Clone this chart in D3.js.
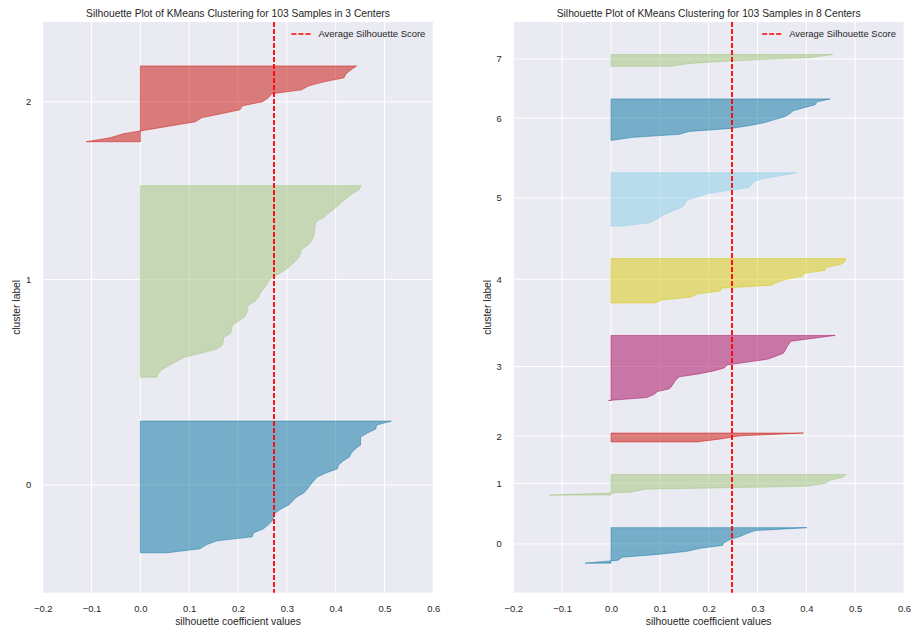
<!DOCTYPE html>
<html>
<head>
<meta charset="utf-8">
<script src="https://cdn.jsdelivr.net/npm/d3@7"></script>
<style>
body{margin:0;background:#fff;}
text{font-family:"Liberation Sans",Arial,sans-serif;fill:#262626;}
</style>
</head>
<body>
<div class="canva"></div>
<script>
// silhouette values of each cluster, sorted low -> high
const left0 = [0.055,0.122,0.135,0.157,0.229,0.232,0.252,0.262,0.270,0.273,0.276,0.288,0.304,0.312,0.320,0.335,0.342,
  0.348,0.355,0.362,0.380,0.403,0.406,0.415,0.428,0.432,0.440,0.451,0.451,0.451,0.465,0.482,0.484,0.514];
const left1 = [0.034,0.037,0.045,0.060,0.075,0.090,0.124,0.155,0.168,0.170,0.171,0.185,0.187,0.188,0.200,0.213,0.218,
  0.219,0.221,0.235,0.242,0.245,0.251,0.258,0.262,0.270,0.285,0.298,0.308,0.317,0.324,0.328,0.330,0.342,0.350,0.354,
  0.356,0.357,0.358,0.360,0.376,0.384,0.395,0.405,0.414,0.424,0.435,0.448,0.452];
const left2 = [-0.111,-0.062,-0.035,0.015,0.064,0.113,0.125,0.165,0.204,0.209,0.250,0.262,0.269,0.330,0.345,0.376,
  0.417,0.421,0.431,0.443];

const right0 = [-0.053,0.015,0.023,0.100,0.156,0.182,0.228,0.232,0.244,0.264,0.278,0.295,0.401];
const right1 = [-0.126,0.040,0.070,0.401,0.440,0.448,0.473,0.482];
const right2 = [0.176,0.225,0.262,0.394];
const right3 = [-0.005,0.073,0.088,0.095,0.120,0.125,0.129,0.133,0.140,0.180,0.210,0.232,0.238,0.280,0.322,0.338,
  0.353,0.357,0.360,0.364,0.368,0.412,0.459];
const right4 = [0.090,0.105,0.165,0.176,0.224,0.227,0.329,0.340,0.360,0.392,0.396,0.438,0.440,0.470,0.479,0.481];
const right5 = [0.022,0.077,0.090,0.100,0.110,0.125,0.140,0.150,0.152,0.158,0.180,0.199,0.240,0.283,0.288,0.292,
  0.310,0.345,0.380];
const right6 = [0.003,0.045,0.140,0.160,0.245,0.285,0.315,0.335,0.357,0.366,0.373,0.395,0.418,0.422,0.449];
const right7 = [0.121,0.162,0.260,0.410,0.454];

const leftAvg = 0.273;
const rightAvg = 0.247;
const xTicks = [-0.2,-0.1,0.0,0.1,0.2,0.3,0.4,0.5,0.6];
const clusterColors = ["#0272a2","#9fc377","#ca0b03","#a50258","#d7c703","#88cee6"];
const gap = 10;

const svg = d3.select(".canva").append("svg")
  .attr("width", 914)
  .attr("height", 630);

function drawPanel(clusters, avg, title, box) {
  const total = d3.sum(clusters, c => c.length) + gap * (clusters.length + 1);
  const x = d3.scaleLinear().domain([-0.2, 0.6]).range([box.x0, box.x1]);
  const y = d3.scaleLinear().domain([0, total]).range([box.y1, box.y0]);

  // where each cluster sits on the y axis
  let yLower = gap;
  const spans = clusters.map((vals, i) => {
    const s = {i: i, vals: vals, lower: yLower, mid: yLower + vals.length / 2};
    yLower += vals.length + gap;
    return s;
  });

  const g = svg.append("g");
  g.append("rect")
    .attr("x", box.x0).attr("y", box.y0)
    .attr("width", box.x1 - box.x0).attr("height", box.y1 - box.y0)
    .attr("fill", "#eaeaf2");

  g.selectAll(".vgrid").data(xTicks).enter().append("line")
    .attr("x1", d => x(d)).attr("x2", d => x(d))
    .attr("y1", box.y0).attr("y2", box.y1)
    .attr("stroke", "#fff").attr("stroke-width", 1);
  g.selectAll(".hgrid").data(spans).enter().append("line")
    .attr("x1", box.x0).attr("x2", box.x1)
    .attr("y1", d => y(d.mid)).attr("y2", d => y(d.mid))
    .attr("stroke", "#fff").attr("stroke-width", 1);

  spans.forEach(s => {
    const area = d3.area()
      .x0(x(0))
      .x1(d => x(d))
      .y((d, j) => y(s.lower + j));
    const c = clusterColors[s.i % clusterColors.length];
    g.append("path")
      .attr("d", area(s.vals))
      .attr("fill", c).attr("fill-opacity", 0.5)
      .attr("stroke", c).attr("stroke-opacity", 0.5).attr("stroke-width", 0.9);
  });

  // snap the dashed line to the pixel grid so it stays bright red
  const ax = Math.round(x(avg));
  g.append("line")
    .attr("x1", ax).attr("x2", ax)
    .attr("y1", box.y0).attr("y2", box.y1)
    .attr("stroke", "#ff0000").attr("stroke-width", 1.8)
    .attr("stroke-dasharray", "5,2");

  // axes
  const xAxis = g.append("g")
    .attr("transform", `translate(0,${box.y1})`)
    .call(d3.axisBottom(x).tickValues(xTicks).tickSize(0).tickPadding(12.3).tickFormat(d3.format(".1f")));
  const yAxis = g.append("g")
    .attr("transform", `translate(${box.x0},0)`)
    .call(d3.axisLeft(y).tickValues(spans.map(s => s.mid)).tickSize(0).tickPadding(11.5)
      .tickFormat((d, i) => String(i)));
  [xAxis, yAxis].forEach(a => {
    a.select(".domain").remove();
    a.selectAll("text").attr("font-size", 9.45).attr("fill", "#262626")
      .attr("font-family", '"Liberation Sans",Arial,sans-serif');
  });

  g.append("text")
    .attr("x", (box.x0 + box.x1) / 2).attr("y", 624.8)
    .attr("text-anchor", "middle").attr("font-size", 10.3)
    .text("silhouette coefficient values");
  g.append("text")
    .attr("transform", `translate(${box.x0 - 26},${(box.y0 + box.y1) / 2}) rotate(-90)`)
    .attr("text-anchor", "middle").attr("dy", "0.35em").attr("font-size", 10.3)
    .text("cluster label");
  g.append("text")
    .attr("x", (box.x0 + box.x1) / 2).attr("y", 17.3)
    .attr("text-anchor", "middle").attr("font-size", 10.3)
    .text(title);

  // legend
  const lt = g.append("text")
    .attr("x", box.x1 - 8).attr("y", 37.4)
    .attr("text-anchor", "end").attr("font-size", 9.45)
    .text("Average Silhouette Score");
  const tStart = box.x1 - 8 - lt.node().getComputedTextLength();
  g.append("line")
    .attr("x1", tStart - 27).attr("x2", tStart - 8)
    .attr("y1", 34).attr("y2", 34)
    .attr("stroke", "#ff0000").attr("stroke-width", 1.5)
    .attr("stroke-dasharray", "5,2");
}

drawPanel([left0, left1, left2], leftAvg,
  "Silhouette Plot of KMeans Clustering for 103 Samples in 3 Centers",
  {x0: 42.7, x1: 433.3, y0: 22, y1: 592.7});
drawPanel([right0, right1, right2, right3, right4, right5, right6, right7], rightAvg,
  "Silhouette Plot of KMeans Clustering for 103 Samples in 8 Centers",
  {x0: 513.3, x1: 904, y0: 22, y1: 592.7});
</script>
</body>
</html>
